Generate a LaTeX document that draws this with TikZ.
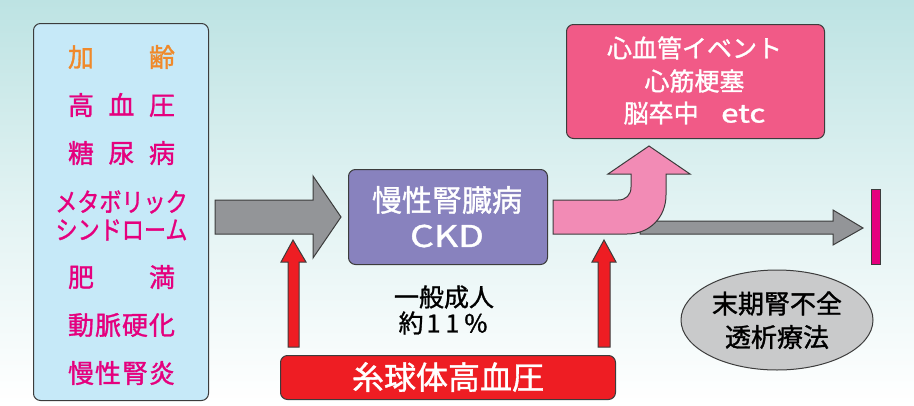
\documentclass[tikz,border=0pt]{standalone}
\usepackage{fontspec}
\setmainfont{Noto Sans CJK JP}[FakeBold=1.2]
\usetikzlibrary{shapes.geometric}
\definecolor{bgteal}{HTML}{BDE3E3}
\definecolor{lblue}{HTML}{C6E9F8}
\definecolor{orng}{HTML}{F0892A}
\definecolor{mgnt}{HTML}{E5007E}
\definecolor{purp}{HTML}{8882BE}
\definecolor{redc}{HTML}{EE1D23}
\definecolor{pinkbox}{HTML}{F15A87}
\definecolor{pinkarr}{HTML}{F28BB5}
\definecolor{grayarr}{HTML}{939598}
\definecolor{grayell}{HTML}{C9CACB}
\definecolor{outl}{HTML}{3C3C3C}
\tikzset{
  outlined/.style={draw=outl, line width=1pt},
  rbox/.style={outlined, rounded corners=7pt, anchor=north west, inner sep=0pt},
  risktxt/.style={text=mgnt, inner sep=0pt, font=\fontsize{26}{30}\selectfont},
  wtxt/.style={text=white, inner sep=0pt},
  btxt/.style={text=black, inner sep=0pt},
}
\begin{document}
\begin{tikzpicture}[x=1pt,y=-1pt]
\useasboundingbox (0,0) rectangle (914,405);
\shade[top color=bgteal, bottom color=white, middle color=bgteal!45] (0,0) rectangle (914,405);

% left risk box
\node[rbox, fill=lblue, minimum width=175pt, minimum height=377pt] (risk) at (33,23) {};
\node[risktxt, text=orng] (r1) at (121.5,57) {\hbox to 107pt{加\hfill 齢}};
\node[risktxt] (r2) at (121.5,105) {\hbox to 107pt{高\hfill 血\hfill 圧}};
\node[risktxt] (r3) at (121.5,153) {\hbox to 107pt{糖\hfill 尿\hfill 病}};
\node[risktxt] (r4) at (121.5,202) {\scalebox{0.85}[1]{メタボリック}};
\node[risktxt] (r5) at (121.5,230) {\scalebox{0.85}[1]{シンドローム}};
\node[risktxt] (r6) at (121.5,277) {\hbox to 107pt{肥\hfill 満}};
\node[risktxt] (r7) at (121.5,325) {\hbox to 107pt{動\hfill 脈\hfill 硬\hfill 化}};
\node[risktxt] (r8) at (121.5,373) {\hbox to 107pt{慢\hfill 性\hfill 腎\hfill 炎}};

% gray arrow 1
\draw[outlined, fill=grayarr] (215,200) -- (313,200) -- (313,176) -- (341,217) -- (313,258) -- (313,234) -- (215,234) -- cycle;

% CKD box
\node[rbox, fill=purp, minimum width=199pt, minimum height=95pt] (ckd) at (348,169) {};
\node[wtxt, font=\fontsize{30}{34}\selectfont] (ckd1) at (447,200) {慢性腎臓病};
\node[wtxt, font=\fontsize{30}{34}\selectfont] (ckd2) at (447,236) {\scalebox{1.25}[1]{CKD}};

\node[btxt, font=\fontsize{25}{28}\selectfont] (adult1) at (444,297) {一般成人};
\node[btxt, font=\fontsize{25}{28}\selectfont] (adult2) at (443,323) {約\hspace{3pt}1\hspace{5pt}1\hspace{5pt}\%};

% red arrows
\draw[outlined, fill=redc] (288,347) -- (288,262) -- (281,262) -- (293,240) -- (306,262) -- (299,262) -- (299,347) -- cycle;
\draw[outlined, fill=redc] (598,347) -- (598,262) -- (592,262) -- (604,240) -- (616,262) -- (610,262) -- (610,347) -- cycle;

% red box
\node[rbox, fill=redc, minimum width=335pt, minimum height=44pt] (glom) at (280,355) {};
\node[wtxt, font=\fontsize{32}{36}\selectfont] (glomt) at (448,377) {糸球体高血圧};

% pink box
\node[rbox, fill=pinkbox, minimum width=258pt, minimum height=114pt] (cvd) at (566,24) {};
\node[wtxt, font=\fontsize{25}{28}\selectfont] (cvd1) at (694.5,48) {心血管イベント};
\node[wtxt, font=\fontsize{25}{28}\selectfont] (cvd2) at (694.5,81) {心筋梗塞};
\node[wtxt, font=\fontsize{25}{28}\selectfont] (cvd3) at (694.5,113) {脳卒中\hspace{0.9em}\scalebox{1.25}[1]{etc}};

% gray arrow 2
\draw[outlined, fill=grayarr] (640,221) -- (833,221) -- (833,210) -- (863,228) -- (833,245) -- (833,234) -- (640,234) -- cycle;

% pink curved arrow
\draw[outlined, fill=pinkarr] (553,200) -- (618,200) .. controls (626,200) and (631,195) .. (631,187) -- (631,174) -- (608,174) -- (649,146) -- (690,174) -- (666,174) -- (666,195) .. controls (666,217) and (650,234) .. (627,234) -- (553,234) -- cycle;

% magenta bar
\draw[line width=0.8pt, draw=outl, fill=mgnt] (871,189) rectangle (880,264);

% ellipse
\node[ellipse, outlined, fill=grayell, minimum width=192pt, minimum height=100pt, inner sep=0pt] (esrd) at (777,320) {};
\node[btxt, font=\fontsize{26}{30}\selectfont] (esrd1) at (777,303.5) {末期腎不全};
\node[btxt, font=\fontsize{26}{30}\selectfont] (esrd2) at (777,337) {透析療法};
\end{tikzpicture}
\end{document}
